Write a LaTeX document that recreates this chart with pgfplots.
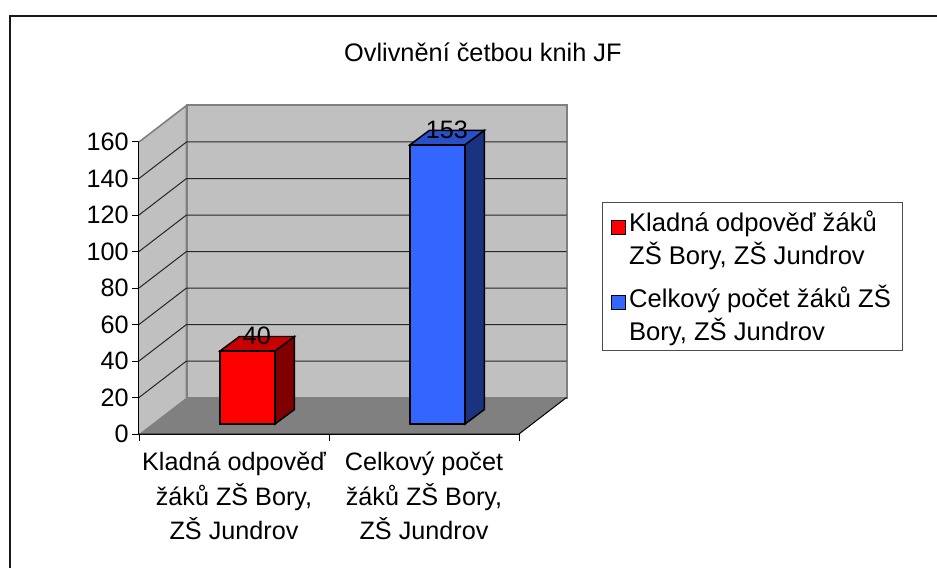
\documentclass[border=0pt]{standalone}
\usepackage{fontspec}
\setmainfont{Liberation Sans}
\usepackage{pgfplots}
\pgfplotsset{compat=1.18}
\definecolor{wall}{HTML}{C0C0C0}
\definecolor{flr}{HTML}{808080}
\definecolor{redfront}{HTML}{FF0000}
\definecolor{redtop}{HTML}{C80000}
\definecolor{redside}{HTML}{800000}
\definecolor{bluefront}{HTML}{3366FF}
\definecolor{bluetop}{HTML}{2850C8}
\definecolor{blueside}{HTML}{1A3380}
\newcommand{\cf}{\fontsize{18.9}{26}\selectfont}
\newcommand{\lf}{\fontsize{19.2}{24.75}\selectfont}
\begin{document}
\begin{tikzpicture}
\path[use as bounding box] (0,0) rectangle (702.75pt,426pt);
\draw[black!90,line width=1.6pt] (7.6pt,0pt) -- (7.6pt,414pt) -- (702.75pt,414pt);
\begin{axis}[
  at={(104.25pt,100.5pt)}, anchor=south west,
  scale only axis, width=285pt, height=219pt,
  xmin=0, xmax=2, ymin=0, ymax=160,
  clip=false,
  axis x line*=bottom, axis y line*=left,
  axis line style={-,black,line width=0.8pt},
  tick style={black,line width=0.75pt},
  major tick length=5.25pt,
  tick align=outside,
  xtick={0,1,2}, xticklabels={},
  ytick={0,20,...,160},
  /pgf/number format/assume math mode=true,
  yticklabel style={font=\cf, xshift=1pt},
  extra x ticks={0.5,1.5},
  extra x tick style={major tick length=0pt},
  extra x tick labels={{Kladná odpověď\\žáků ZŠ Bory,\\ZŠ Jundrov},{Celkový počet\\žáků ZŠ Bory,\\ZŠ Jundrov}},
  xticklabel style={font=\cf, align=center, yshift=-10pt},
  title={Ovlivnění četbou knih JF},
  title style={font=\fontsize{19}{22}\selectfont, at={(axis description cs:0.905,1.281)}, anchor=center},
  legend style={at={(axis description cs:1.218,0.795)}, anchor=north west,
    draw=black!70, line width=0.7pt, font=\lf, cells={align=left}, inner xsep=6.5pt, inner ysep=4.25pt,
    row sep=9.75pt, /tikz/column 2/.style={column sep=3pt}},
  legend cell align=left,
  legend image code/.code={\draw[#1,line width=1.1pt] (0pt,-4.5pt) rectangle (10.5pt,6pt);},
]
% walls and floor
\addplot[forget plot, fill=wall, draw=flr, line width=1.5pt] coordinates {(0.25,20) (2.25,20) (2.25,180) (0.25,180)} --cycle;
\addplot[forget plot, fill=wall, draw=none] coordinates {(0,0) (0.25,20) (0.25,180) (0,160)} --cycle;
\addplot[forget plot, draw=flr, line width=1.2pt] coordinates {(0,160) (0.25,180) (0.25,20)};
\addplot[forget plot, fill=flr, draw=none] coordinates {(0,0) (2,0) (2.25,20) (0.25,20)} --cycle;
\addplot[forget plot, black, line width=0.75pt] coordinates {(0,0) (2,0) (2.25,20)};
% gridlines
\addplot[forget plot, black!85, line width=0.75pt] coordinates {(0,20) (0.25,40) (2.25,40)};
\addplot[forget plot, black!85, line width=0.75pt] coordinates {(0,40) (0.25,60) (2.25,60)};
\addplot[forget plot, black!85, line width=0.75pt] coordinates {(0,60) (0.25,80) (2.25,80)};
\addplot[forget plot, black!85, line width=0.75pt] coordinates {(0,80) (0.25,100) (2.25,100)};
\addplot[forget plot, black!85, line width=0.75pt] coordinates {(0,100) (0.25,120) (2.25,120)};
\addplot[forget plot, black!85, line width=0.75pt] coordinates {(0,120) (0.25,140) (2.25,140)};
\addplot[forget plot, black!85, line width=0.75pt] coordinates {(0,140) (0.25,160) (2.25,160)};
% red bar: side, top, front
\addplot[forget plot, fill=redside, draw=black, line width=1.1pt, line join=miter, xshift=10.1pt, yshift=7.5pt] coordinates {(0.6447,0) (0.7473,7.945) (0.7473,47.945) (0.6447,40)} --cycle;
\addplot[forget plot, fill=redtop, draw=black, line width=1.1pt, line join=miter, xshift=10.1pt, yshift=7.5pt] coordinates {(0.3553,40) (0.6447,40) (0.7473,47.945) (0.4579,47.945)} --cycle;
\addplot[ybar, bar width=41.25pt, fill=redfront, draw=black, line width=1.1pt, xshift=10.1pt, yshift=7.5pt,
  nodes near coords, nodes near coords style={font=\cf, black, xshift=7pt, yshift=1pt}] coordinates {(0.5,40)};
\addlegendentry{Kladná odpověď žáků\\ZŠ Bory, ZŠ Jundrov}
% blue bar: side, top, front
\addplot[forget plot, fill=blueside, draw=black, line width=1.1pt, line join=miter, xshift=10.1pt, yshift=7.5pt] coordinates {(1.6447,0) (1.7473,7.945) (1.7473,160.945) (1.6447,153)} --cycle;
\addplot[forget plot, fill=bluetop, draw=black, line width=1.1pt, line join=miter, xshift=10.1pt, yshift=7.5pt] coordinates {(1.3553,153) (1.6447,153) (1.7473,160.945) (1.4579,160.945)} --cycle;
\addplot[ybar, bar width=41.25pt, fill=bluefront, draw=black, line width=1.1pt, xshift=10.1pt, yshift=7.5pt,
  nodes near coords, nodes near coords style={font=\cf, black, xshift=7pt, yshift=1pt}] coordinates {(1.5,153)};
\addlegendentry{Celkový počet žáků ZŠ\\Bory, ZŠ Jundrov}
\end{axis}
\end{tikzpicture}
\end{document}
